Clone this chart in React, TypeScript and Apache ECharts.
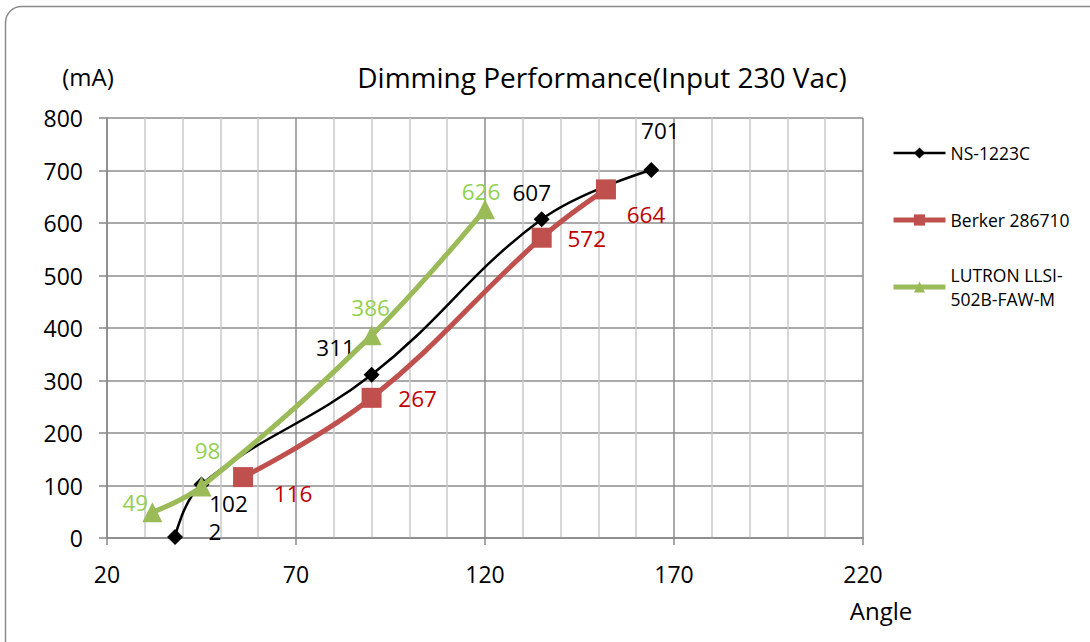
import React, { useEffect, useRef } from "react";
import * as echarts from "echarts";

const seriesNames = ["NS-1223C", "Berker 286710", "LUTRON LLSI-502B-FAW-M"];

const nsAngle = [38, 45, 90, 135, 164];
const nsCurrent = [2, 102, 311, 607, 701];

const berkerAngle = [56, 90, 135, 152];
const berkerCurrent = [116, 267, 572, 664];

const lutronAngle = [32, 45, 90, 120];
const lutronCurrent = [49, 98, 386, 626];

const xTicks = [20, 70, 120, 170, 220];
const yTicks = [0, 100, 200, 300, 400, 500, 600, 700, 800];

// label offsets (px) relative to each point, for placement only
const nsLabelOffsets = [[40, -5], [27, 19], [-36, -27], [-10, -27], [9, -39]];
const berkerLabelOffsets = [[50, 16], [46, 1], [45, 1], [40, 25]];
const lutronLabelOffsets = [[-17, -10], [6, -36], [-1, -28], [-4, -18]];

const FONT = "'Open Sans', 'Noto Sans', sans-serif";

function buildData(xs: number[], ys: number[], offsets: number[][], color: string) {
  return xs.map((x, i) => ({
    value: [x, ys[i]],
    label: {
      show: true,
      position: "inside",
      offset: offsets[i],
      color,
      fontSize: 22.5,
      lineHeight: 22,
      fontFamily: FONT,
      formatter: String(ys[i]),
    },
  }));
}

export default function App() {
  const ref = useRef<HTMLDivElement>(null);
  useEffect(() => {
    if (!ref.current) return;
    const chart = echarts.init(ref.current, undefined, { renderer: "svg" });
    const legendText = { fontSize: 17.5, lineHeight: 24, color: "#000", fontFamily: FONT };
    const option: any = {
      animation: false,
      backgroundColor: "#ffffff",
      textStyle: { fontFamily: FONT },
      title: {
        text: "Dimming Performance(Input 230 Vac)",
        left: 597,
        textAlign: "center",
        top: 58,
        textStyle: { fontSize: 28, fontWeight: "normal", color: "#000", fontFamily: FONT },
      },
      graphic: [
        {
          type: "rect",
          z: -10,
          shape: { x: 5.5, y: 6.5, width: 1100, height: 660, r: 16 },
          style: { fill: "none", stroke: "#8a8a8a", lineWidth: 1.5 },
          silent: true,
        },
        {
          type: "text",
          x: 88,
          y: 76,
          style: { text: "(mA)", fontSize: 24, fontFamily: FONT, fill: "#000", align: "center", verticalAlign: "middle" },
        },
        {
          type: "text",
          x: 881,
          y: 610,
          style: { text: "Angle", fontSize: 24, fontFamily: FONT, fill: "#000", align: "center", verticalAlign: "middle" },
        },
      ],
      grid: { left: 107, right: 227, top: 118, bottom: 104, outerBoundsMode: "none", containLabel: false },
      legend: [
        {
          orient: "vertical",
          left: 891,
          top: 141,
          padding: 0,
          itemWidth: 52,
          itemHeight: 14,
          itemGap: 43,
          data: [
            { name: seriesNames[0], lineStyle: { width: 2.5 } },
            { name: seriesNames[1], lineStyle: { width: 5 } },
          ],
          textStyle: legendText,
        },
        {
          orient: "vertical",
          left: 891,
          top: 251,
          padding: 0,
          itemWidth: 52,
          itemHeight: 14,
          data: [{ name: seriesNames[2], lineStyle: { width: 5 } }],
          formatter: () => "LUTRON LLSI-\n502B-FAW-M",
          textStyle: { ...legendText, padding: [24, 0, 0, 0] },
        },
      ],
      xAxis: {
        type: "value",
        min: xTicks[0],
        max: xTicks[xTicks.length - 1],
        interval: 50,
        axisLine: { show: true, lineStyle: { color: "#888888", width: 1.5 } },
        axisTick: { show: true, length: 7, lineStyle: { color: "#888888", width: 1.5 } },
        axisLabel: { fontSize: 23, color: "#000", margin: 24, fontFamily: FONT },
        splitLine: { show: true, lineStyle: { color: "#8c8c8c", width: 1.5 } },
        minorTick: { show: false, splitNumber: 5 },
        minorSplitLine: { show: true, lineStyle: { color: "#c8c8c8", width: 1.5 } },
      },
      yAxis: {
        type: "value",
        min: yTicks[0],
        max: yTicks[yTicks.length - 1],
        interval: 100,
        axisLine: { show: true, lineStyle: { color: "#888888", width: 1.5 } },
        axisTick: { show: true, length: 8, lineStyle: { color: "#888888", width: 1.5 } },
        axisLabel: { fontSize: 23, color: "#000", margin: 24, fontFamily: FONT },
        splitLine: { show: true, lineStyle: { color: "#8c8c8c", width: 1.5 } },
      },
      series: [
        {
          name: seriesNames[0],
          type: "line",
          smooth: 0.4,
          symbol: "diamond",
          symbolSize: 16,
          itemStyle: { color: "#000000" },
          lineStyle: { color: "#000000", width: 2.5 },
          data: buildData(nsAngle, nsCurrent, nsLabelOffsets, "#000000"),
          z: 2,
        },
        {
          name: seriesNames[1],
          type: "line",
          smooth: 0.4,
          symbol: "rect",
          symbolSize: 20,
          itemStyle: { color: "#C0504D" },
          lineStyle: { color: "#C0504D", width: 5 },
          data: buildData(berkerAngle, berkerCurrent, berkerLabelOffsets, "#C00000"),
          z: 3,
        },
        {
          name: seriesNames[2],
          type: "line",
          smooth: 0.4,
          symbol: "triangle",
          symbolSize: 20,
          itemStyle: { color: "#9BBB59" },
          lineStyle: { color: "#9BBB59", width: 5 },
          data: buildData(lutronAngle, lutronCurrent, lutronLabelOffsets, "#92D050"),
          z: 4,
        },
      ],
    };
    chart.setOption(option);
    return () => chart.dispose();
  }, []);
  return (
    <div
      ref={ref}
      style={{ position: "fixed", left: 0, top: 0, width: 1090, height: 642, background: "#fff" }}
    />
  );
}
